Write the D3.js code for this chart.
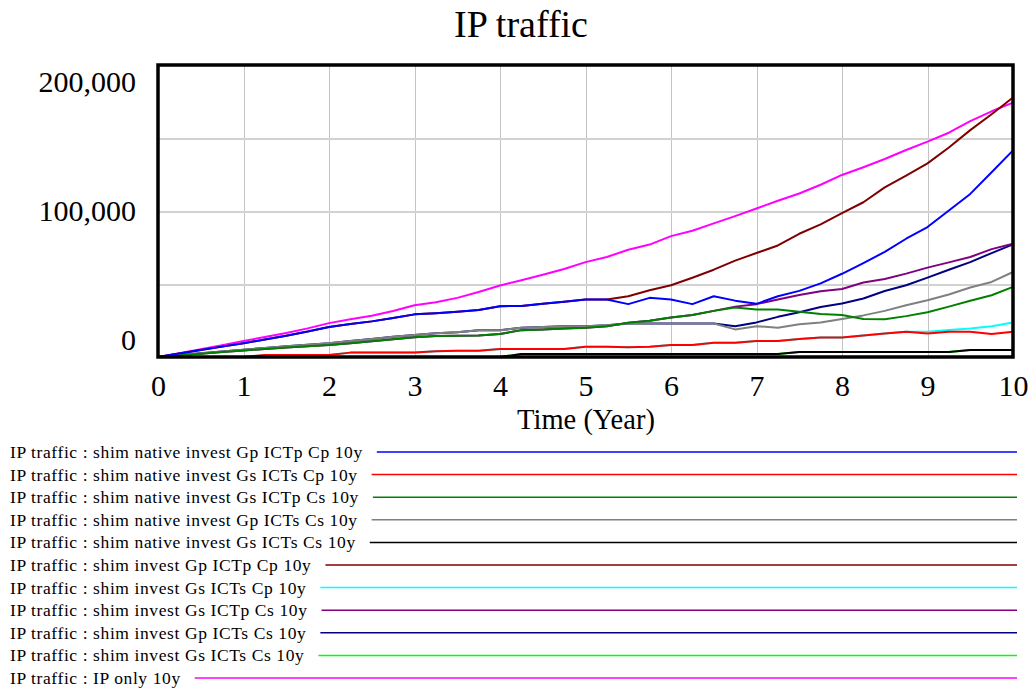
<!DOCTYPE html>
<html>
<head>
<meta charset="utf-8">
<title>IP traffic</title>
<script src="https://cdn.jsdelivr.net/npm/d3@7/dist/d3.min.js"></script>
<style>
    body { margin: 0; background: #fff; }
    svg text { font-family: "Liberation Serif", "Times New Roman", serif; fill: #000; }
    .grid line { shape-rendering: crispEdges; }
    .grid path { display: none; }
    .axis path { display: none; }
</style>
</head>
<body>
<svg id="chart" width="1031" height="689"></svg>
<script>
(function(){
    'use strict';

    /*******************************************************************
     *                              DATA                               *
     *******************************************************************/

    //Time (Year), one save point every quarter
    var time = [0, 0.25, 0.5, 0.75, 1, 1.25, 1.5, 1.75, 2, 2.25, 2.5, 2.75,
        3, 3.25, 3.5, 3.75, 4, 4.25, 4.5, 4.75, 5, 5.25, 5.5, 5.75, 6, 6.25,
        6.5, 6.75, 7, 7.25, 7.5, 7.75, 8, 8.25, 8.5, 8.75, 9, 9.25, 9.5, 9.75, 10];

    var xTicks = [0, 1, 2, 3, 4, 5, 6, 7, 8, 9, 10];
    var yLabels = [0, 100000, 200000];
    var yGrid = [50000, 100000, 150000];

    //IP traffic values, thousands
    var nativeGpICTpCp = [0, 2.4, 4.8, 7.1, 9.4, 12, 14.6, 17.4, 20.6, 22.6, 24.4, 26.7,
        29.2, 30, 31, 32.2, 34.8, 35, 36.4, 37.8, 39.4, 39.4, 36.2, 40.5, 39.4, 36.2,
        41.6, 38.6, 36.4, 41.6, 45.3, 50.4, 57, 64.3, 72, 81, 89, 100.3, 111.7, 126.5, 141.5];

    var nativeGsICTsCp = [0, 0, 0, 0, 0, 1.4, 1.4, 1.4, 1.4, 3, 3, 3,
        3, 3.9, 4.3, 4.3, 5.4, 5.4, 5.4, 5.4, 7, 7, 6.6, 7, 8.2, 8.2,
        9.8, 9.8, 10.9, 10.9, 12.3, 13.4, 13.4, 14.8, 16.1, 17.3, 16.1, 17.3, 17.3, 15.7, 17.3];

    var nativeGsICTpCs = [0, 1.2, 2.3, 3.4, 4.5, 5.5, 6.5, 7.4, 8.2, 9.5, 10.8, 12.2,
        13.5, 14.3, 14.5, 14.8, 15.7, 18.4, 18.9, 19.6, 20, 21.1, 23.4, 24.8, 27.1, 28.7,
        31.6, 33.9, 32.5, 32.5, 31, 29.5, 28.7, 26.1, 25.9, 28, 30.7, 34.5, 38.5, 42.3, 48];

    var nativeGpICTsCs = [0, 1.3, 2.6, 3.8, 5, 6.2, 7.4, 8.4, 9.4, 10.9, 12.3, 13.8,
        15.1, 16.2, 17, 18.4, 18.4, 20, 20.5, 21.1, 21.1, 21.8, 23, 23, 23, 23,
        23, 18.9, 21.1, 20, 22.5, 23.7, 26.1, 28.5, 31.6, 35.5, 38.9, 42.8, 47.6, 51.4, 58.2];

    var nativeGsICTsCs = [0, 0, 0, 0, 0, 0, 0, 0, 0, 0, 0, 0,
        0, 0, 0, 0, 0, 2, 2, 2, 2, 2, 2, 2, 2, 2,
        2, 2, 2, 2, 3.5, 3.5, 3.5, 3.5, 3.5, 3.5, 3.5, 3.5, 4.8, 4.8, 4.8];

    var investGpICTpCp = [0, 2.4, 4.8, 7.1, 9.4, 12, 14.6, 17.4, 20.6, 22.6, 24.4, 26.7,
        29.2, 30, 31, 32.2, 34.8, 35, 36.4, 37.8, 39.4, 39.4, 41.6, 45.7, 49.1, 54.3,
        59.8, 66, 71.2, 76.4, 84.4, 90.8, 98.5, 106, 116.2, 124.2, 132.6, 143.5, 155.4, 166.3, 177.7];

    var investGsICTsCp = [0, 0, 0, 0, 0, 1.4, 1.4, 1.4, 1.4, 3, 3, 3,
        3, 3.9, 4.3, 4.3, 5.4, 5.4, 5.4, 5.4, 7, 7, 6.6, 7, 8.2, 8.2,
        9.8, 9.8, 10.9, 10.9, 12.3, 13.4, 13.4, 14.8, 16.1, 17.3, 17.3, 18.5, 19.6, 21.1, 23.7];

    var investGsICTpCs = [0, 1.2, 2.3, 3.4, 4.5, 5.5, 6.5, 7.4, 8.2, 9.5, 10.8, 12.2,
        13.5, 14.3, 14.5, 14.8, 15.7, 18.4, 18.9, 19.6, 20, 21.1, 23.4, 24.8, 27.1, 28.7,
        31.6, 34.5, 36.2, 39.4, 42.5, 45, 46.6, 51, 53.4, 57.1, 61.2, 64.8, 68.5, 73.9, 77.6];

    var investGpICTsCs = [0, 1.3, 2.6, 3.8, 5, 6.2, 7.4, 8.4, 9.4, 10.9, 12.3, 13.8,
        15.1, 16.2, 17, 18.4, 18.4, 20, 20.5, 21.1, 21.1, 21.8, 23, 23, 23, 23,
        23, 21.1, 23.7, 27.5, 30.7, 34.3, 36.6, 40.1, 45.2, 49.1, 54.4, 59.8, 65, 71.2, 77.1];

    var investGsICTsCs = [0, 0, 0, 0, 0, 0, 0, 0, 0, 0, 0, 0,
        0, 0, 0, 0, 0, 2, 2, 2, 2, 2, 2, 2, 2, 2,
        2, 2, 2, 2, 3.5, 3.5, 3.5, 3.5, 3.5, 3.5, 3.5, 3.5, 4.8, 4.8, 4.8];

    var ipOnly = [0, 2.6, 5.3, 8, 10.9, 13.7, 16.5, 19.6, 23.2, 25.8, 28.3, 31.5,
        35.5, 37.5, 40.5, 44.5, 49, 52.6, 56.3, 60.3, 65, 68.5, 73.5, 77, 82.8, 86.5,
        91.5, 96.5, 101.7, 107, 112, 118, 124.7, 130, 135.6, 141.8, 147.5, 153.6, 161.5, 168.3, 174.2];

    var seriesNames = [
        'IP traffic : shim native invest Gp ICTp Cp 10y',
        'IP traffic : shim native invest Gs ICTs Cp 10y',
        'IP traffic : shim native invest Gs ICTp Cs 10y',
        'IP traffic : shim native invest Gp ICTs Cs 10y',
        'IP traffic : shim native invest Gs ICTs Cs 10y',
        'IP traffic : shim invest Gp ICTp Cp 10y',
        'IP traffic : shim invest Gs ICTs Cp 10y',
        'IP traffic : shim invest Gs ICTp Cs 10y',
        'IP traffic : shim invest Gp ICTs Cs 10y',
        'IP traffic : shim invest Gs ICTs Cs 10y',
        'IP traffic : IP only 10y'
    ];

    var seriesValues = [nativeGpICTpCp, nativeGsICTsCp, nativeGsICTpCs, nativeGpICTsCs,
        nativeGsICTsCs, investGpICTpCp, investGsICTsCp, investGsICTpCs, investGpICTsCs,
        investGsICTsCs, ipOnly];

    var seriesColors = ['#0000ff', '#ff0000', '#008000', '#808080', '#000000', '#800000',
        '#00ffff', '#800080', '#000080', '#00ff00', '#ff00ff'];

    /*******************************************************************
     *                            LAYOUT                               *
     *******************************************************************/

    var plot = { left: 158, right: 1013, top: 65, bottom: 357 };
    var legendTop = 452;
    var legendStep = 22.6;
    var legendEnd = 1017;

    var svg = d3.select('#chart');

    var xScale = d3.scaleLinear()
        .domain([0, 10])
        .range([plot.left, plot.right]);

    var yScale = d3.scaleLinear()
        .domain([0, 200000])
        .range([plot.bottom, plot.top]);

    drawTitle();
    drawGrid();
    drawSeries();
    drawFrame();
    drawAxes();
    drawLegend();

    /*******************************************************************
     *                           DRAWING                               *
     *******************************************************************/

    function drawTitle() {
        svg.append('text')
            .attr('x', 521)
            .attr('y', 37)
            .attr('text-anchor', 'middle')
            .style('font-size', '38px')
            .text('IP traffic');
    }

    /**
     * Light grey grid, horizontal lines a bit wider than vertical ones
     */
    function drawGrid() {
        svg.append('g')
            .attr('class', 'grid')
            .attr('transform', 'translate(0,' + plot.bottom + ')')
            .call(d3.axisBottom(xScale)
                .tickValues(xTicks.slice(1, -1))
                .tickSize(-(plot.bottom - plot.top))
                .tickFormat(''))
            .selectAll('line')
            .attr('stroke', '#c4c4c4')
            .attr('stroke-width', 1);

        svg.append('g')
            .attr('class', 'grid')
            .attr('transform', 'translate(' + plot.left + ',0)')
            .call(d3.axisLeft(yScale)
                .tickValues(yGrid)
                .tickSize(-(plot.right - plot.left))
                .tickFormat(''))
            .selectAll('line')
            .attr('stroke', '#d2d2d2')
            .attr('stroke-width', 2);
    }

    /**
     * Lines drawn last-to-first so the first series sits on top
     */
    function drawSeries() {
        var line = d3.line()
            .x(function(d, i) { return xScale(time[i]); })
            .y(function(d) { return yScale(d * 1000); });

        for (var j = seriesValues.length - 1; j >= 0; j--) {
            svg.append('path')
                .datum(seriesValues[j])
                .attr('fill', 'none')
                .attr('stroke', seriesColors[j])
                .attr('stroke-width', 2)
                .attr('stroke-linejoin', 'round')
                .attr('d', line);
        }
    }

    function drawFrame() {
        svg.append('rect')
            .attr('x', plot.left)
            .attr('y', plot.top)
            .attr('width', plot.right - plot.left)
            .attr('height', plot.bottom - plot.top)
            .attr('fill', 'none')
            .attr('stroke', '#000')
            .attr('stroke-width', 3.5);
    }

    /**
     * Axis labels; the top and bottom y labels sit inside the frame
     */
    function drawAxes() {
        var x = svg.append('g')
            .attr('class', 'axis')
            .attr('transform', 'translate(0,' + plot.bottom + ')')
            .call(d3.axisBottom(xScale)
                .tickValues(xTicks)
                .tickSize(0)
                .tickPadding(18)
                .tickFormat(d3.format('d')));
        x.selectAll('text')
            .style('font-size', '30px')
            .attr('font-family', null);

        var y = svg.append('g')
            .attr('class', 'axis')
            .attr('transform', 'translate(' + (plot.left - 22) + ',0)')
            .call(d3.axisLeft(yScale)
                .tickValues(yLabels)
                .tickSize(0)
                .tickPadding(0)
                .tickFormat(d3.format(',')));
        y.selectAll('text')
            .style('font-size', '30px')
            .attr('font-family', null)
            .attr('y', function(d) {
                if (d === 0) return -17;
                if (d === 200000) return 17;
                return 0;
            });

        svg.append('text')
            .attr('x', 586)
            .attr('y', 429)
            .attr('text-anchor', 'middle')
            .style('font-size', '28.5px')
            .text('Time (Year)');
    }

    function drawLegend() {
        for (var j = 0; j < seriesNames.length; j++) {
            var y = legendTop + j * legendStep;
            var label = svg.append('text')
                .attr('x', 10)
                .attr('y', y + 6)
                .style('font-size', '17.5px')
                .style('letter-spacing', '0.6px')
                .text(seriesNames[j]);

            var textEnd = 10 + label.node().getBBox().width;

            svg.append('line')
                .attr('x1', textEnd + 14)
                .attr('x2', legendEnd)
                .attr('y1', y)
                .attr('y2', y)
                .attr('stroke', seriesColors[j])
                .attr('stroke-width', 1.5);
        }
    }
})();
</script>
</body>
</html>
